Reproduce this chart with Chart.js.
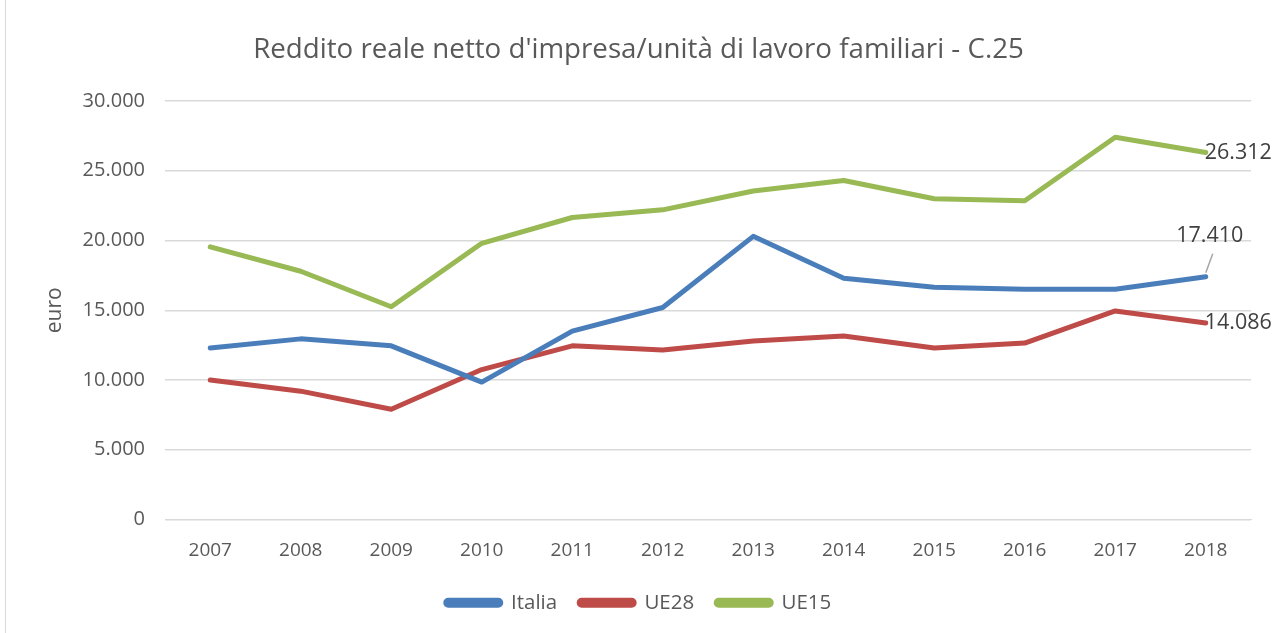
<!DOCTYPE html>
<html>
<head>
<meta charset="utf-8">
<script src="https://cdn.jsdelivr.net/npm/chart.js@4.4.1/dist/chart.umd.min.js"></script>
<style>
  html, body { margin: 0; padding: 0; background: #fff; }
  #wrap { position: relative; width: 1277px; height: 633px; }
  #edge { position: absolute; left: 5px; top: 0; width: 1px; height: 633px; background: #d9d9d9; }
</style>
</head>
<body>
<div id="wrap">
  <canvas id="chart" width="1277" height="633"></canvas>
  <div id="edge"></div>
</div>
<script>
const years = ['2007', '2008', '2009', '2010', '2011', '2012', '2013', '2014', '2015', '2016', '2017', '2018'];
const italia = [12300, 12950, 12450, 9850, 13500, 15200, 20300, 17300, 16650, 16500, 16500, 17410];
const ue28 = [10000, 9200, 7900, 10750, 12450, 12150, 12800, 13150, 12300, 12650, 14950, 14086];
const ue15 = [19550, 17800, 15250, 19800, 21650, 22200, 23550, 24300, 23000, 22850, 27400, 26312];
const yTicks = [0, 5000, 10000, 15000, 20000, 25000, 30000];

const $ = id => document.getElementById(id);
const fmt = v => String(Math.round(v)).replace(/\B(?=(\d{3})+(?!\d))/g, '.');
const FONT = "'Open Sans', 'Noto Sans', sans-serif";
const GREY = '#595959';

// etichette sull'ultimo punto di ogni serie + titolo asse y
const lastLabels = {
  id: 'lastLabels',
  afterDatasetsDraw(chart) {
    const ctx = chart.ctx;
    const area = chart.chartArea;
    ctx.save();
    ctx.font = "21.5px " + FONT;
    ctx.fillStyle = '#404040';
    ctx.textBaseline = 'middle';
    chart.data.datasets.forEach((ds, i) => {
      const meta = chart.getDatasetMeta(i);
      const n = ds.data.length - 1;
      const pt = meta.data[n];
      const txt = fmt(ds.data[n]);
      if (ds.label === 'Italia') {
        ctx.strokeStyle = '#a6a6a6';
        ctx.lineWidth = 1.5;
        ctx.beginPath();
        ctx.moveTo(pt.x, pt.y - 4);
        ctx.lineTo(pt.x + 7, pt.y - 23);
        ctx.stroke();
        ctx.textAlign = 'center';
        ctx.fillText(txt, pt.x + 4, pt.y - 41);
      } else {
        ctx.textAlign = 'left';
        ctx.fillText(txt, pt.x - 1, pt.y);
      }
    });
    // titolo asse y
    ctx.translate(area.left - 110, (area.top + area.bottom) / 2);
    ctx.rotate(-Math.PI / 2);
    ctx.font = "21px " + FONT;
    ctx.fillStyle = GREY;
    ctx.textAlign = 'center';
    ctx.fillText('euro', 0, 0);
    ctx.restore();
  }
};

const line = (label, data, color) => ({
  label, data, borderColor: color, backgroundColor: color,
  borderWidth: 5, pointRadius: 0, tension: 0, borderJoinStyle: 'round', borderCapStyle: 'round'
});

new Chart($('chart'), {
  type: 'line',
  data: {
    labels: years,
    datasets: [
      line('Italia', italia, '#4a7ebb'),
      line('UE28', ue28, '#be4b48'),
      line('UE15', ue15, '#98b954')
    ]
  },
  options: {
    responsive: false, animation: false,
    layout: { padding: { left: 0, right: 0, top: 0, bottom: 10 } },
    plugins: {
      title: {
        display: true, text: "Reddito reale netto d'impresa/unità di lavoro familiari - C.25",
        color: GREY, font: { family: FONT, size: 27.7, weight: 'normal' },
        padding: { top: 33.5, bottom: 34.3 }
      },
      legend: {
        position: 'bottom',
        labels: {
          color: GREY, font: { family: FONT, size: 20.5 },
          boxWidth: 55, boxHeight: 5, padding: 22, useBorderRadius: true, borderRadius: 2.5
        }
      },
      tooltip: { enabled: false }
    },
    scales: {
      x: {
        offset: true,
        afterFit: s => { s.height = 51; },
        grid: { display: false, drawTicks: false },
        border: { display: true, color: '#d9d9d9', width: 1 },
        ticks: { color: GREY, font: { family: FONT, size: 19 }, padding: 20, maxRotation: 0 }
      },
      y: {
        min: 0, max: 30000,
        afterFit: s => { s.width = 165; },
        afterBuildTicks: s => { s.ticks = yTicks.map(v => ({ value: v })); },
        grid: { color: '#d9d9d9', lineWidth: 1.5, drawTicks: false },
        border: { display: false },
        ticks: { color: GREY, font: { family: FONT, size: 20 }, padding: 20, callback: v => fmt(v) }
      },
      yr: {
        position: 'right', display: true,
        afterFit: s => { s.width = 26; },
        grid: { display: false, drawTicks: false },
        border: { display: false },
        ticks: { display: false }
      }
    }
  },
  plugins: [lastLabels]
});
</script>
</body>
</html>
